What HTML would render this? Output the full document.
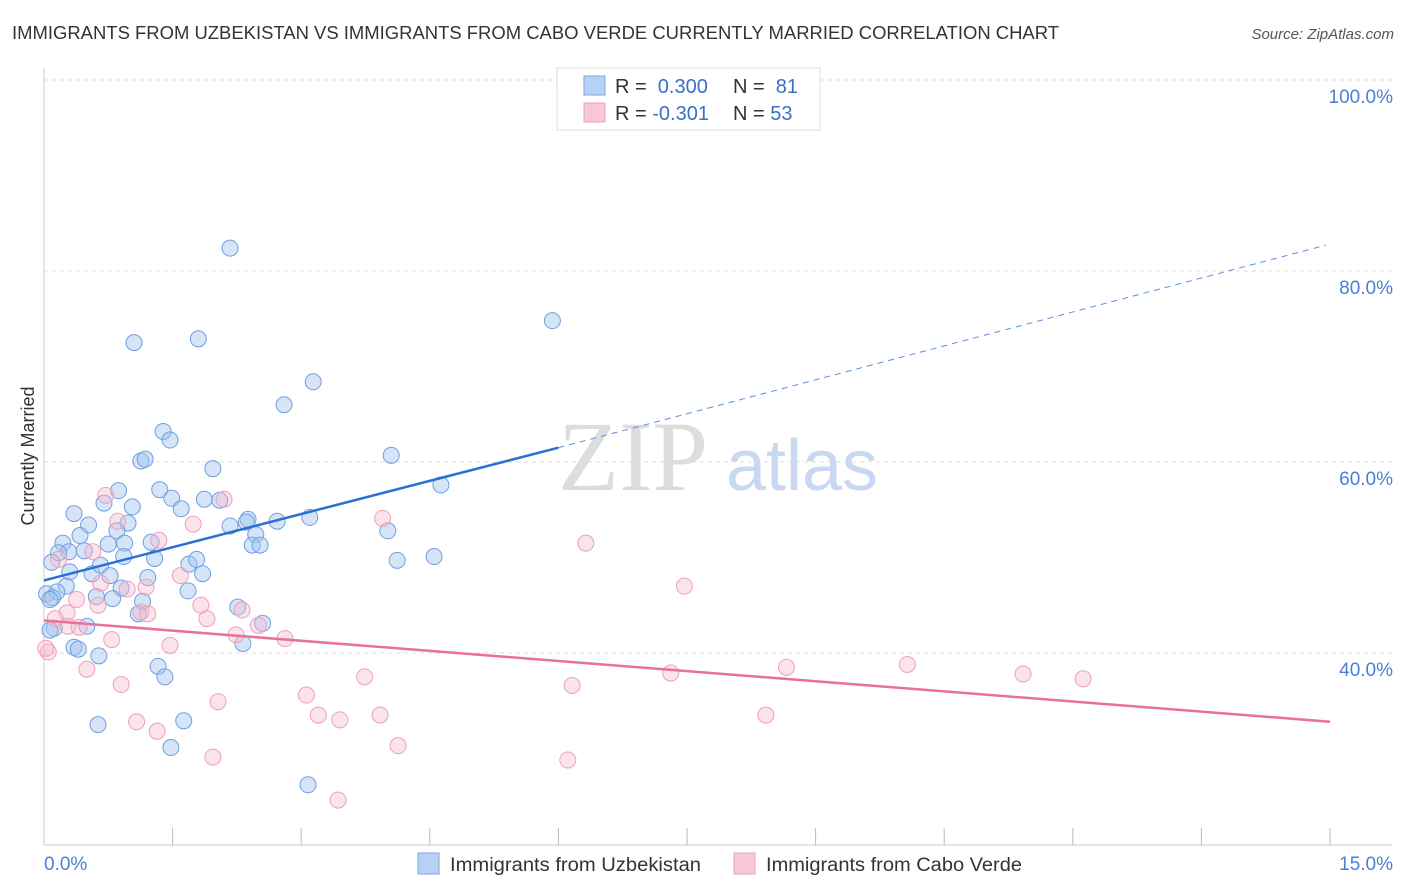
<!DOCTYPE html>
<html><head><meta charset="utf-8"><style>
body{margin:0;background:#fff;font-family:"Liberation Sans",sans-serif;}
svg{display:block}
</style></head><body>
<svg id="chart" width="1406" height="892" xmlns="http://www.w3.org/2000/svg">
<text x="12" y="39" font-size="18" fill="#333" textLength="1047" lengthAdjust="spacingAndGlyphs">IMMIGRANTS FROM UZBEKISTAN VS IMMIGRANTS FROM CABO VERDE CURRENTLY MARRIED CORRELATION CHART</text>
<text x="1394" y="39" font-size="15" fill="#555" font-style="italic" text-anchor="end">Source: ZipAtlas.com</text>
<text x="633" y="490" font-size="100" fill="#ddd" font-family="Liberation Serif,serif" text-anchor="middle">ZIP</text>
<text x="802" y="490" font-size="72" fill="#c8d8f0" text-anchor="middle">atlas</text>
<text x="34" y="456" font-size="18" fill="#333" text-anchor="middle" transform="rotate(-90 34 456)">Currently Married</text>
<g id="grid"></g><g id="axes"></g><g id="pts"></g><g id="lines"></g>
<g>
<rect x="557" y="68" width="263" height="62" fill="#fff" stroke="#ddd"/>
<rect x="584" y="76" width="21" height="19" fill="#b8d0f4" stroke="#7aa7e0"/>
<rect x="584" y="103" width="21" height="19" fill="#f8c8d6" stroke="#eda0b8"/>
<text x="615" y="93" font-size="20" fill="#333">R = <tspan fill="#3a70c8">&#160;0.300</tspan><tspan x="733">N = </tspan><tspan fill="#3a70c8">&#160;81</tspan></text>
<text x="615" y="120" font-size="20" fill="#333">R = <tspan fill="#3a70c8">-0.301</tspan><tspan x="733">N = </tspan><tspan fill="#3a70c8">53</tspan></text>
</g>
<g>
<rect x="418" y="853" width="21" height="21" fill="#b8d0f4" stroke="#7aa7e0"/>
<text x="450" y="871" font-size="19" fill="#333" textLength="251" lengthAdjust="spacingAndGlyphs">Immigrants from Uzbekistan</text>
<rect x="734" y="853" width="21" height="21" fill="#f8c8d6" stroke="#eda0b8"/>
<text x="766" y="871" font-size="19" fill="#333" textLength="256" lengthAdjust="spacingAndGlyphs">Immigrants from Cabo Verde</text>
</g>
</svg>
<script>
const blueX=[2.17,5.93,1.05,1.80,3.14,2.80,1.39,1.47,1.13,1.18,1.97,4.05,4.63,1.35,0.87,0.70,0.35,1.03,1.49,1.60,1.87,2.05,2.38,2.36,2.17,0.52,0.98,0.85,0.42,0.22,0.75,0.94,1.25,0.29,0.47,0.17,0.09,0.93,1.29,2.47,2.43,2.52,2.72,3.10,4.01,4.12,4.55,0.30,0.56,0.66,0.77,1.21,1.69,1.78,1.85,0.26,0.90,0.15,0.03,0.61,0.80,1.15,1.68,2.26,2.55,0.10,1.10,0.12,0.50,0.07,0.64,0.35,0.40,1.33,1.41,2.32,0.63,1.63,1.48,3.08,0.07];
const blueY=[82.4,74.8,72.5,72.9,68.4,66.0,63.2,62.3,60.1,60.3,59.3,60.7,57.6,57.1,57.0,55.7,54.6,55.3,56.2,55.1,56.1,56.0,54.0,53.7,53.3,53.4,53.6,52.8,52.3,51.5,51.4,51.5,51.6,50.6,50.7,50.5,49.5,50.1,49.9,52.4,51.3,51.3,53.8,54.2,52.8,49.7,50.1,48.5,48.3,49.2,48.1,47.9,49.3,49.8,48.3,47.0,46.8,46.4,46.2,45.9,45.7,45.4,46.5,44.8,43.1,45.8,44.1,42.6,42.8,42.4,39.7,40.6,40.4,38.6,37.5,41.0,32.5,32.9,30.1,26.2,45.6];
const pinkX=[0.72,0.86,0.57,0.17,1.34,2.10,1.74,3.95,6.32,7.47,0.38,0.63,0.27,0.13,0.97,1.19,1.59,1.83,1.90,1.13,1.21,2.31,2.24,2.50,2.81,0.28,0.79,1.47,0.50,0.90,0.05,0.02,1.08,1.32,2.03,1.97,3.06,3.20,3.45,3.74,3.92,4.13,3.43,6.16,6.11,7.31,8.66,8.42,10.07,11.42,12.12,0.41,0.66];
const pinkY=[56.5,53.8,50.6,49.8,51.8,56.1,53.5,54.1,51.5,47.0,45.6,45.0,44.2,43.6,46.7,46.9,48.1,45.0,43.6,44.3,44.1,44.5,41.9,42.9,41.5,42.8,41.4,40.8,38.3,36.7,40.1,40.5,32.8,31.8,34.9,29.1,35.6,33.5,33.0,37.5,33.5,30.3,24.6,36.6,28.8,37.9,38.5,33.5,38.8,37.8,37.3,42.7,47.3];
const blueTrendX=[0,6.0,14.95];
const blueTrendY=[47.6,61.5,82.7];
const pinkTrendX=[0,15];
const pinkTrendY=[43.4,32.8];
const yTicks=[100,80,60,40];
const yTickLabels=["100.0%","80.0%","60.0%","40.0%"];
const xTickCount=10;
const NS="http://www.w3.org/2000/svg";
const sx=v=>44+v*(1330-44)/15;
const sy=v=>80+(100-v)*9.55;
function mk(tag,attrs,parent){const e=document.createElementNS(NS,tag);for(const k in attrs)e.setAttribute(k,attrs[k]);document.getElementById(parent).appendChild(e);return e;}
yTicks.forEach((t,i)=>{
 const g=mk('line',{x1:44,x2:1392,y1:sy(t),y2:sy(t),stroke:'#ddd','stroke-dasharray':'4,4'},'grid');
 
 
 const tx=mk('text',{x:1393,y:sy(t)+23,'font-size':19,fill:'#4a7fd4','text-anchor':'end'},'grid');
 tx.textContent=yTickLabels[i];
 
 
});
let a=mk('line',{x1:44,x2:44,y1:68,y2:845,stroke:'#ccc'},'axes');


a=mk('line',{x1:44,x2:1392,y1:845,y2:845,stroke:'#ccc'},'axes');


for(let i=1;i<=xTickCount;i++){
 const x=sx(i*15/xTickCount);
 const t=mk('line',{x1:x,x2:x,y1:828,y2:845,stroke:'#bbb'},'axes');
 
 
}
let l=mk('text',{x:44,y:870,'font-size':19,fill:'#4a7fd4'},'axes');l.textContent='0.0%';


l=mk('text',{x:1393,y:870,'font-size':19,fill:'#4a7fd4','text-anchor':'end'},'axes');l.textContent='15.0%';


blueX.forEach((x,i)=>{
 const c=mk('circle',{cx:sx(x),cy:sy(blueY[i]),r:8,fill:'rgba(164,196,240,0.45)',stroke:'#6f9fe0','stroke-width':1},'pts');
 
 
});
pinkX.forEach((x,i)=>{
 const c=mk('circle',{cx:sx(x),cy:sy(pinkY[i]),r:8,fill:'rgba(246,184,204,0.4)',stroke:'#eda0b8','stroke-width':1},'pts');
 
 
});
let t1=mk('line',{x1:sx(blueTrendX[0]),y1:sy(blueTrendY[0]),x2:sx(blueTrendX[1]),y2:sy(blueTrendY[1]),stroke:'#2a6fd6','stroke-width':2.5},'lines');


let t2=mk('line',{x1:sx(blueTrendX[1]),y1:sy(blueTrendY[1]),x2:sx(blueTrendX[2]),y2:sy(blueTrendY[2]),stroke:'#5a8fe0','stroke-width':1,'stroke-dasharray':'6,5'},'lines');


let t3=mk('line',{x1:sx(pinkTrendX[0]),y1:sy(pinkTrendY[0]),x2:sx(pinkTrendX[1]),y2:sy(pinkTrendY[1]),stroke:'#e8709a','stroke-width':2.5},'lines');


</script>
</body></html>
